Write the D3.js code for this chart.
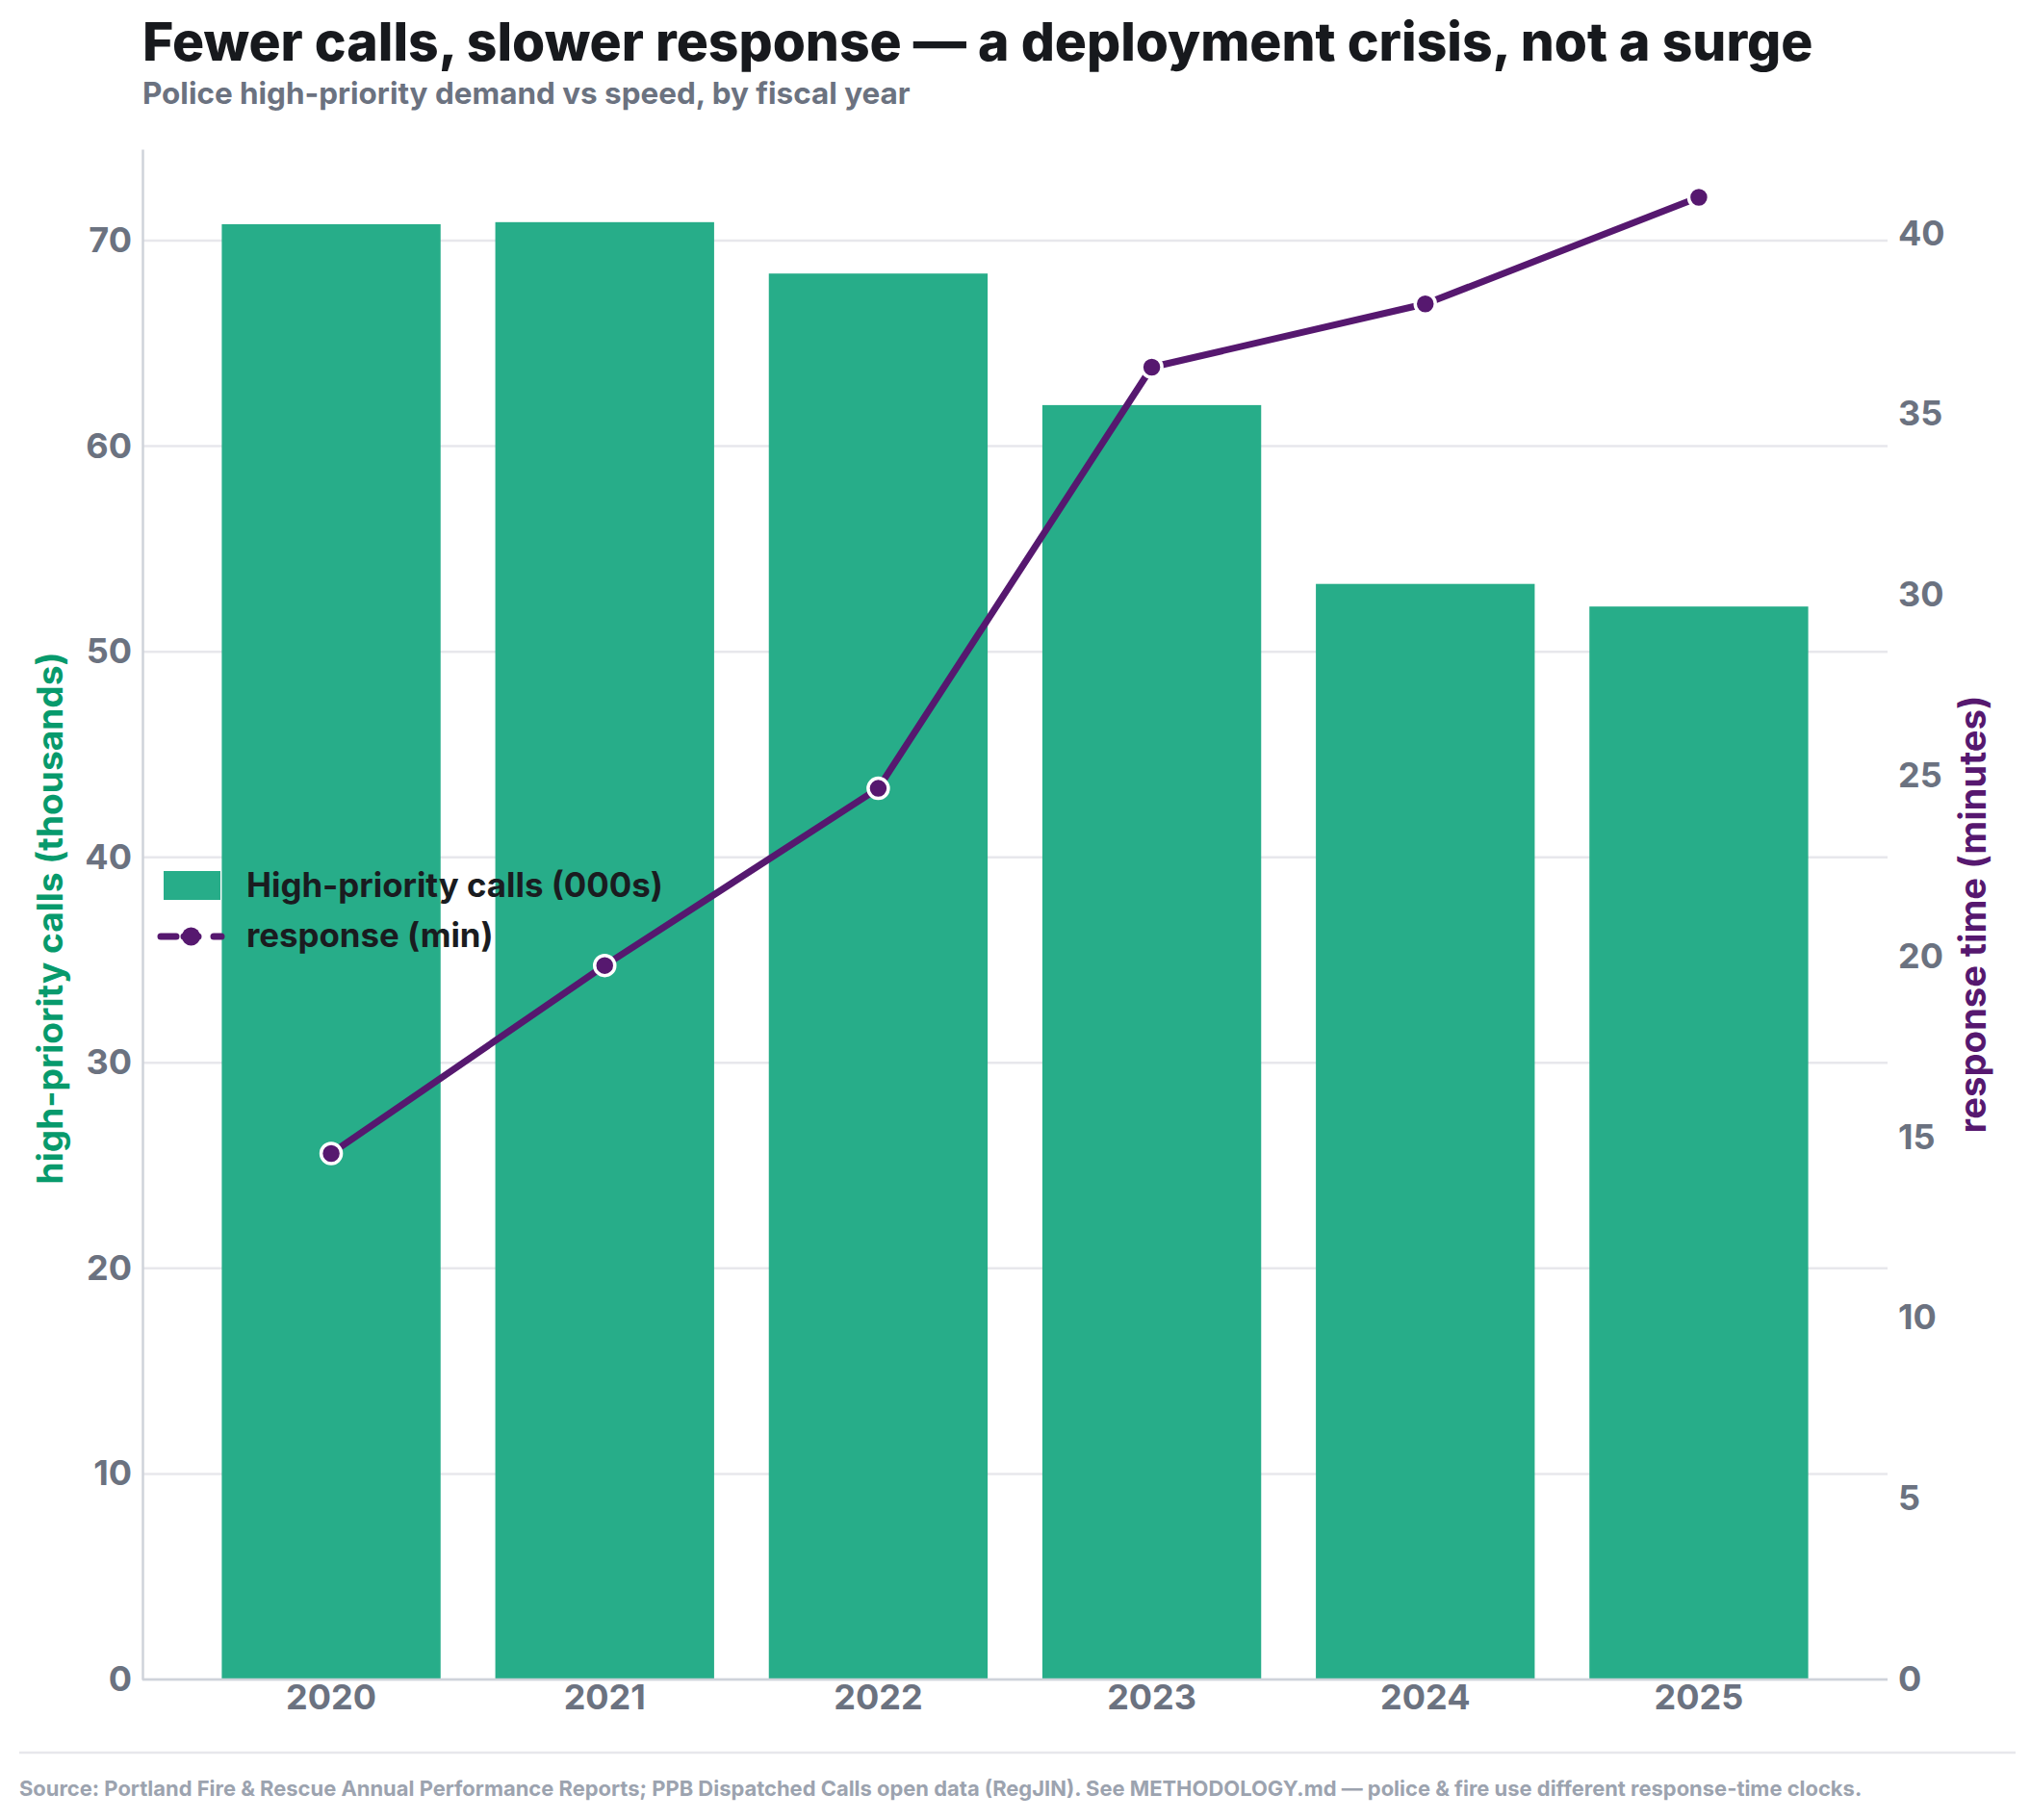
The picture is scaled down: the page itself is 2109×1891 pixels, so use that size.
<!DOCTYPE html>
<html><head><meta charset="utf-8">
<script src="https://cdn.jsdelivr.net/npm/d3@7"></script>
<style>
html,body{margin:0;padding:0;background:#fff;}
svg{display:block;font-family:Inter,Lato,"Noto Sans",sans-serif;}
</style></head>
<body>
<svg id="chart" width="2109" height="1891"></svg>
<script>
const years = ["2020","2021","2022","2023","2024","2025"];
const calls = [70.8, 70.9, 68.4, 62.0, 53.3, 52.2];
const response = [14.55, 19.75, 24.65, 36.3, 38.05, 41.0];
const leftTicks = [0,10,20,30,40,50,60,70];
const rightTicks = [0,5,10,15,20,25,30,35,40];

const svg = d3.select("#chart");
const M = {left:148, right:1961, top:155, bottom:1745};
const barColor = "#27ad89", lineColor = "#56186f", gray = "#6b7280";
const FONT = "Inter, Lato, sans-serif";

// size a text so that it spans a target width (keeps reference proportions)
function fit(sel, target, start) {
  sel.attr("font-size", start);
  const w = sel.node().getComputedTextLength();
  const s = start * target / w;
  sel.attr("font-size", s);
  return s;
}

const x = d3.scaleLinear().domain([-0.69, years.length - 1 + 0.69]).range([M.left, M.right]);
const bw = x(0.8) - x(0);
const yL = d3.scaleLinear().domain([0, 74.45]).range([M.bottom, M.top]);
const yR = d3.scaleLinear().domain([0, 42.33]).range([M.bottom, M.top]);

// gridlines
svg.append("g").selectAll("line").data(leftTicks).join("line")
  .attr("x1", M.left).attr("x2", M.right)
  .attr("y1", d=>yL(d)).attr("y2", d=>yL(d))
  .attr("stroke", "#e7e7ec").attr("stroke-width", 2.5);

// bars
svg.append("g").selectAll("rect").data(calls).join("rect")
  .attr("x", (d,i)=>x(i) - bw/2).attr("width", bw)
  .attr("y", d=>yL(d)).attr("height", d=>yL(0)-yL(d))
  .attr("fill", barColor);

// tick font size from a sample ("2020" spans ~95px in the reference)
const probe = svg.append("text").attr("font-family",FONT).attr("font-weight",700).text("2020");
const tickFS = fit(probe, 94, 30);
probe.remove();

const axL = d3.axisLeft(yL).tickValues(leftTicks).tickSize(0).tickPadding(11);
const gL = svg.append("g").attr("transform", `translate(${M.left},0)`).call(axL);
gL.select(".domain").attr("stroke", "#cfd3da").attr("stroke-width", 2.5);
gL.selectAll("text").attr("font-size", tickFS).attr("font-weight", 700).attr("fill", gray)
  .attr("font-family", FONT);

const axR = d3.axisRight(yR).tickValues(rightTicks).tickSize(0).tickPadding(11);
const gR = svg.append("g").attr("transform", `translate(${M.right},0)`).call(axR);
gR.select(".domain").remove();
gR.selectAll("text").attr("font-size", tickFS).attr("font-weight", 700).attr("fill", gray)
  .attr("font-family", FONT);

const xb = d3.scaleBand().domain(years).range([x(-0.5), x(years.length-0.5)]);
const axB = d3.axisBottom(xb).tickSize(0).tickPadding(5);
const gB = svg.append("g").attr("transform", `translate(0,${M.bottom})`).call(axB);
gB.select(".domain").remove();
svg.append("line").attr("x1", M.left).attr("x2", M.right).attr("y1", M.bottom).attr("y2", M.bottom)
  .attr("stroke", "#cfd3da").attr("stroke-width", 2.5);
gB.selectAll("text").attr("font-size", tickFS).attr("font-weight", 700).attr("fill", gray)
  .attr("font-family", FONT);

// line
const line = d3.line().x((d,i)=>x(i)).y(d=>yR(d));
svg.append("path").datum(response).attr("d", line)
  .attr("fill","none").attr("stroke", lineColor).attr("stroke-width", 7)
  .attr("stroke-linejoin","round");
svg.append("g").selectAll("circle").data(response).join("circle")
  .attr("cx",(d,i)=>x(i)).attr("cy",d=>yR(d)).attr("r",10.5)
  .attr("fill", lineColor).attr("stroke","#fff").attr("stroke-width",3.5);

// axis titles
const midY = (M.top+M.bottom)/2;
const lt = svg.append("text").attr("transform", `translate(65,${midY + 4}) rotate(-90)`)
  .attr("text-anchor","middle").attr("font-weight",700).attr("font-family",FONT)
  .attr("fill","#079a6c").text("high-priority calls (thousands)");
fit(lt, 553, 30);
const rt = svg.append("text").attr("transform", `translate(2063,${midY}) rotate(-90)`)
  .attr("text-anchor","middle").attr("font-weight",700).attr("font-family",FONT)
  .attr("fill",lineColor).text("response time (minutes)");
fit(rt, 455, 30);

// legend
const lg = svg.append("g");
lg.append("rect").attr("x",170).attr("y",905).attr("width",59).attr("height",30).attr("fill",barColor);
const l1 = lg.append("text").attr("x",256).attr("y",932).attr("font-weight",700).attr("font-family",FONT)
  .attr("fill","#1a1c20").text("High-priority calls (000s)");
const legFS = fit(l1, 433, 30);
lg.append("line").attr("x1",167).attr("x2",230).attr("y1",973).attr("y2",973)
  .attr("stroke",lineColor).attr("stroke-width",7).attr("stroke-dasharray","16,8,15")
  .attr("stroke-linecap","round");
lg.append("circle").attr("cx",198.5).attr("cy",973).attr("r",9.5).attr("fill",lineColor);
lg.append("text").attr("x",256).attr("y",984).attr("font-size",legFS).attr("font-weight",700)
  .attr("font-family",FONT).attr("fill","#1a1c20").text("response (min)");

// title & subtitle
const tt = svg.append("text").attr("x",148).attr("y",63).attr("font-weight",800).attr("font-family",FONT)
  .attr("fill","#17191d").text("Fewer calls, slower response — a deployment crisis, not a surge");
fit(tt, 1736, 50);
const st = svg.append("text").attr("x",148).attr("y",108).attr("font-weight",700).attr("font-family",FONT)
  .attr("fill",gray).text("Police high-priority demand vs speed, by fiscal year");
fit(st, 798, 28);

// footer
svg.append("line").attr("x1",20).attr("x2",2094).attr("y1",1821).attr("y2",1821)
  .attr("stroke","#e7e7ec").attr("stroke-width",2.5);
const ft = svg.append("text").attr("x",20).attr("y",1866).attr("font-weight",700).attr("font-family",FONT)
  .attr("fill","#9ca3af")
  .text("Source: Portland Fire & Rescue Annual Performance Reports; PPB Dispatched Calls open data (RegJIN). See METHODOLOGY.md — police & fire use different response-time clocks.");
fit(ft, 1915, 19);
</script>
</body></html>
